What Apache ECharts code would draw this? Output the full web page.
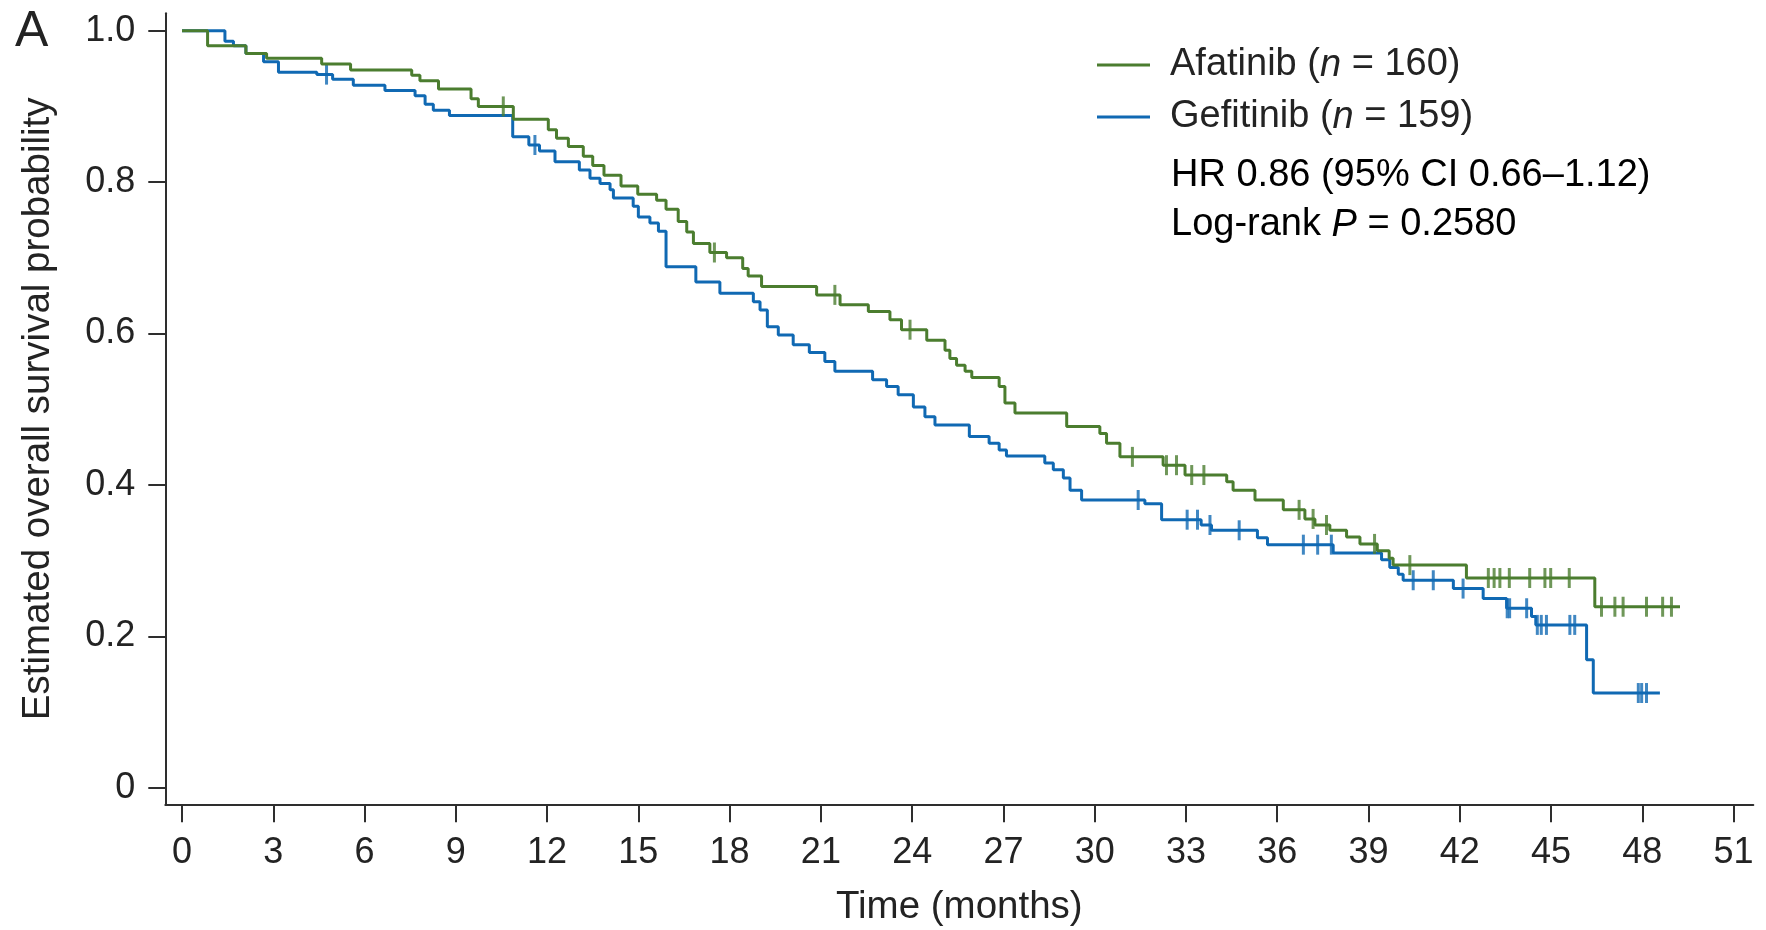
<!DOCTYPE html>
<html>
<head>
<meta charset="utf-8">
<title>Overall survival: Afatinib vs Gefitinib</title>
<script src="https://cdn.jsdelivr.net/npm/echarts@6/dist/echarts.min.js"></script>
<style>
  html, body { margin: 0; padding: 0; background: #fff; }
  #chart { width: 1766px; height: 930px; }
</style>
</head>
<body>
<div id="chart"></div>
<script>
// Tick positions
const timeTicks = [0, 3, 6, 9, 12, 15, 18, 21, 24, 27, 30, 33, 36, 39, 42, 45, 48, 51];
const probTicks = [0, 0.2, 0.4, 0.6, 0.8, 1.0];

// Treatment arms
const groupNames = ['Afatinib', 'Gefitinib'];
const groupN = [160, 159];

// Kaplan-Meier steps: [month, survival probability after the event]
const afatinibSteps = [
  [0, 1.0], [0.84, 0.980], [2.1, 0.970], [2.78, 0.9635], [4.59, 0.956], [5.54, 0.948],
  [7.55, 0.941], [7.82, 0.934], [8.43, 0.923], [9.5, 0.910], [9.74, 0.900], [10.89, 0.883],
  [12.04, 0.869], [12.31, 0.858], [12.7, 0.847], [13.19, 0.834], [13.5, 0.822], [13.87, 0.809],
  [14.43, 0.795], [14.98, 0.784], [15.6, 0.776], [15.91, 0.764], [16.31, 0.748], [16.59, 0.734],
  [16.81, 0.719], [17.35, 0.707], [17.9, 0.700], [18.43, 0.686], [18.61, 0.676], [19.05, 0.662],
  [20.86, 0.651], [21.63, 0.638], [22.56, 0.629], [23.27, 0.618], [23.65, 0.605], [24.48, 0.591],
  [25.08, 0.578], [25.24, 0.567], [25.46, 0.558], [25.74, 0.550], [25.96, 0.542], [26.86, 0.530],
  [27.05, 0.508], [27.38, 0.495], [29.08, 0.477], [30.17, 0.468], [30.39, 0.455], [30.83, 0.437],
  [32.25, 0.426], [32.97, 0.413], [34.34, 0.404], [34.55, 0.393], [35.27, 0.380], [36.2, 0.367],
  [36.91, 0.355], [37.24, 0.347], [37.73, 0.340], [38.28, 0.331], [38.72, 0.322], [39.29, 0.313],
  [39.68, 0.303], [39.81, 0.294], [42.22, 0.277], [46.44, 0.239], [49.24, 0.239]
];
const gefitinibSteps = [
  [0, 1.0], [1.41, 0.986], [1.69, 0.980], [2.1, 0.970], [2.68, 0.959], [3.17, 0.945],
  [4.43, 0.942], [4.95, 0.936], [5.63, 0.928], [6.67, 0.921], [7.66, 0.914], [7.99, 0.903],
  [8.26, 0.895], [8.79, 0.888], [10.87, 0.860], [11.4, 0.849], [11.75, 0.841], [12.26, 0.827],
  [13.06, 0.816], [13.41, 0.805], [13.74, 0.798], [14.07, 0.790], [14.18, 0.779], [14.83, 0.768],
  [15.0, 0.754], [15.38, 0.746], [15.66, 0.735], [15.91, 0.688], [16.89, 0.668], [17.68, 0.653],
  [18.78, 0.642], [19.0, 0.631], [19.24, 0.609], [19.6, 0.598], [20.09, 0.585], [20.62, 0.575],
  [21.13, 0.563], [21.46, 0.550], [22.7, 0.539], [23.16, 0.530], [23.54, 0.519], [24.04, 0.503],
  [24.42, 0.490], [24.75, 0.479], [25.88, 0.464], [26.53, 0.455], [26.86, 0.446], [27.1, 0.438],
  [28.36, 0.429], [28.64, 0.420], [28.97, 0.409], [29.19, 0.393], [29.57, 0.380], [31.65, 0.375],
  [32.2, 0.354], [33.5, 0.347], [33.84, 0.340], [35.35, 0.330], [35.68, 0.321], [37.84, 0.310],
  [39.43, 0.301], [39.7, 0.291], [39.98, 0.282], [40.14, 0.274], [41.79, 0.263], [42.77, 0.250],
  [43.54, 0.237], [44.36, 0.226], [44.5, 0.215], [46.17, 0.169], [46.39, 0.125], [48.58, 0.125]
];

// Censoring times (months)
const afatinibCensored = [
  10.56, 17.5, 21.46, 23.93, 31.24, 32.36, 32.69, 33.19, 33.59, 36.72, 37.18, 37.62, 39.2,
  40.36, 42.94, 43.13, 43.32, 43.63, 44.3, 44.8, 44.99, 45.6, 46.66, 47.1, 47.37, 48.14, 48.67, 48.96
];
const gefitinibCensored = [
  4.75, 11.6, 31.43, 33.04, 33.38, 33.79, 34.75, 36.86, 37.33, 37.78, 40.47, 41.13, 42.11,
  43.56, 43.64, 44.2, 44.55, 44.68, 44.85, 45.62, 45.78, 47.87, 47.98, 48.14
];

const statLines = ['HR 0.86 (95% CI 0.66\u20131.12)', 'Log-rank '];
const pValue = '0.2580';

const GREEN = '#4b7d2f';
const BLUE = '#1069b3';
const INK = '#232323';
const FONT = '"Liberation Sans", Arial, Helvetica, sans-serif';

// Survival level of a step curve at time t
function levelAt(steps, t) {
  let s = steps[0][1];
  for (const [ti, si] of steps) {
    if (ti <= t) s = si; else break;
  }
  return s;
}
const censorPoints = (steps, times) => times.map(t => [t, levelAt(steps, t)]);

const textRich = {
  t: { fontSize: 38, fontFamily: FONT, color: INK },
  i: { fontSize: 38, fontFamily: FONT, color: INK, fontStyle: 'italic' }
};

const chart = echarts.init(document.getElementById('chart'), null, { renderer: 'canvas' });

chart.setOption({
  animation: false,
  backgroundColor: '#fff',
  grid: { left: 165.3, right: 12.7, top: 13.3, bottom: 125.7, containLabel: false, outerBoundsMode: 'none' },
  xAxis: {
    type: 'value',
    min: -0.55,
    max: 51.65,
    name: 'Time (months)',
    nameLocation: 'middle',
    nameGap: 84,
    nameTextStyle: { fontSize: 38.5, fontFamily: FONT, color: INK },
    axisLine: { show: true, onZero: false, lineStyle: { color: '#2e2e2e', width: 2 } },
    axisTick: { show: true, length: 18, customValues: timeTicks, lineStyle: { color: '#2e2e2e', width: 2 } },
    axisLabel: { customValues: timeTicks, fontSize: 36, fontFamily: FONT, color: INK, margin: 31 },
    splitLine: { show: false }
  },
  yAxis: {
    type: 'value',
    min: -0.022,
    max: 1.023,
    name: 'Estimated overall survival probability',
    nameLocation: 'middle',
    nameGap: 107,
    nameTextStyle: { fontSize: 38.5, fontFamily: FONT, color: INK },
    axisLine: { show: true, onZero: false, lineStyle: { color: '#2e2e2e', width: 2 } },
    axisTick: { show: true, length: 17, customValues: probTicks, lineStyle: { color: '#2e2e2e', width: 2 } },
    axisLabel: {
      customValues: probTicks,
      fontSize: 36, fontFamily: FONT, color: INK, margin: 30,
      formatter: v => (v === 0 ? '0' : v.toFixed(1))
    },
    splitLine: { show: false }
  },
  legend: {
    orient: 'vertical',
    left: 1092,
    top: 41,
    itemWidth: 53,
    itemHeight: 3,
    itemGap: 14,
    icon: 'rect',
    selectedMode: false,
    data: groupNames,
    formatter: name => {
      const k = groupNames.indexOf(name);
      return '{t|' + name + ' (}{i|n}{t| = ' + groupN[k] + ')}';
    },
    textStyle: { padding: [0, 0, 0, 15], lineHeight: 38, rich: textRich }
  },
  graphic: [
    {
      type: 'text', left: 15, top: 7,
      style: { text: 'A', fontSize: 50, fontFamily: FONT, fill: INK }
    },
    {
      type: 'text', left: 1171, top: 157,
      style: { text: '{t|' + statLines[0] + '}', rich: textRich }
    },
    {
      type: 'text', left: 1171, top: 206,
      style: { text: '{t|' + statLines[1] + '}{i|P}{t| = ' + pValue + '}', rich: textRich }
    }
  ],
  series: [
    {
      name: groupNames[1],
      type: 'line',
      step: 'end',
      data: gefitinibSteps,
      symbol: 'none',
      color: BLUE,
      lineStyle: { color: BLUE, width: 3 },
      z: 2
    },
    {
      name: groupNames[1] + ' censored',
      type: 'scatter',
      data: censorPoints(gefitinibSteps, gefitinibCensored),
      symbol: 'rect',
      symbolSize: [3, 20],
      itemStyle: { color: BLUE },
      z: 2
    },
    {
      name: groupNames[0],
      type: 'line',
      step: 'end',
      data: afatinibSteps,
      symbol: 'none',
      color: GREEN,
      lineStyle: { color: GREEN, width: 3 },
      z: 3
    },
    {
      name: groupNames[0] + ' censored',
      type: 'scatter',
      data: censorPoints(afatinibSteps, afatinibCensored),
      symbol: 'rect',
      symbolSize: [3, 20],
      itemStyle: { color: GREEN },
      z: 3
    }
  ]
});
</script>
</body>
</html>
